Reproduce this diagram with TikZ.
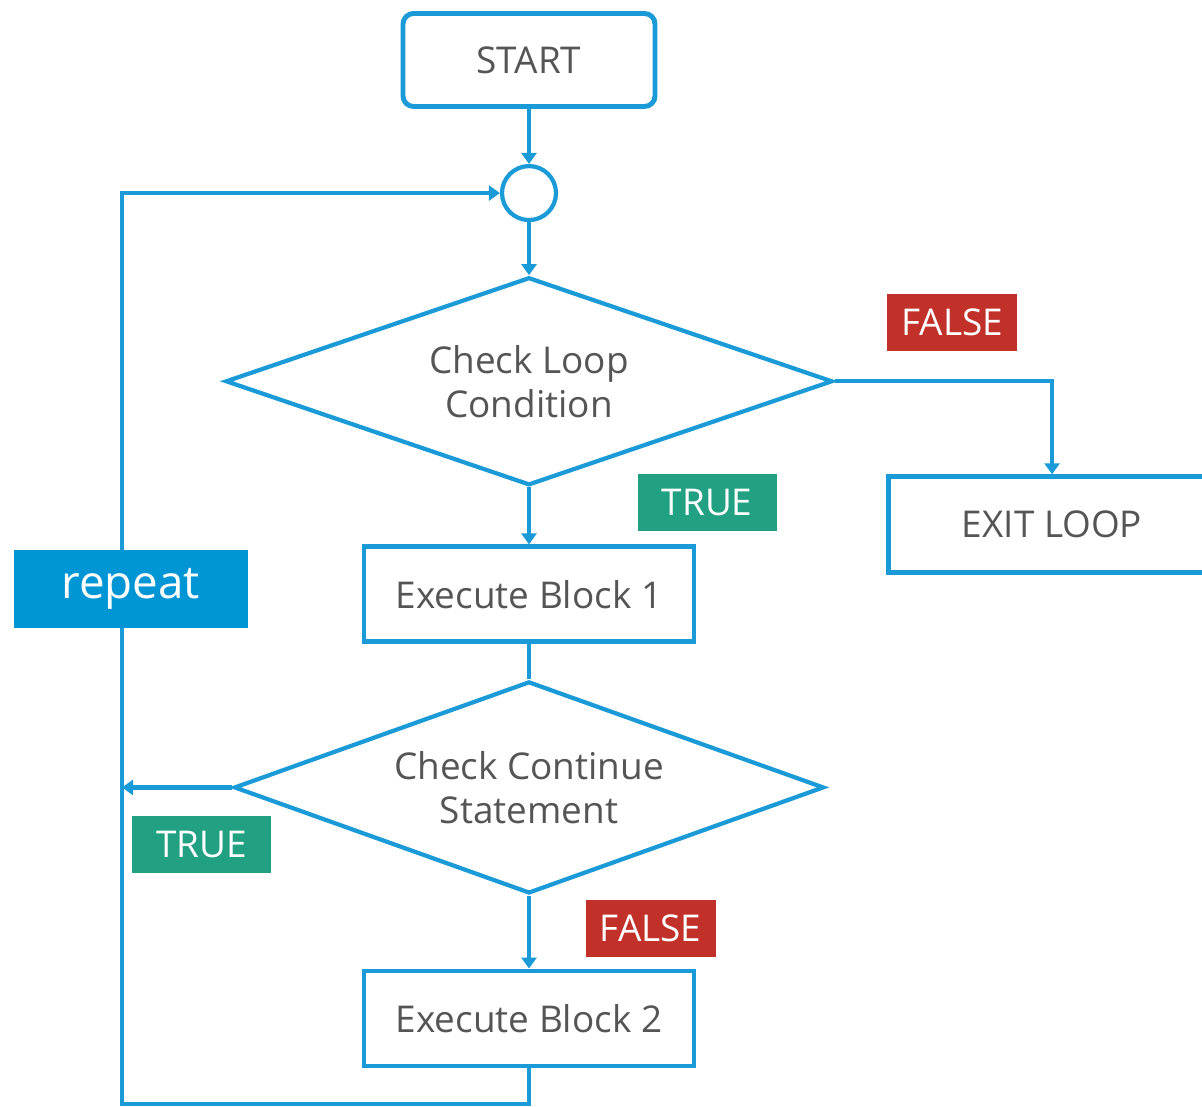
\documentclass[tikz,border=0pt]{standalone}
\usepackage{fontspec}
\setmainfont{Open Sans}
\usepackage{xcolor}
\usetikzlibrary{shapes.geometric, positioning, arrows.meta}

\definecolor{flowblue}{HTML}{1A9AD7}
\definecolor{repeatblue}{HTML}{0096D6}
\definecolor{truegreen}{HTML}{22A182}
\definecolor{falsered}{HTML}{C1312A}
\definecolor{txtgray}{HTML}{555555}

\begin{document}
\begin{tikzpicture}[
  every node/.style={font=\fontsize{10.5}{12.5}\selectfont, text=txtgray},
  box/.style={rectangle, draw=flowblue, line width=1.4pt, fill=white,
    minimum width=3.3cm, minimum height=0.95cm},
  startbox/.style={box, rounded corners=3pt, minimum width=2.52cm, minimum height=0.93cm},
  junction/.style={circle, draw=flowblue, line width=1.2pt, minimum size=0.54cm, inner sep=0pt},
  decision/.style={diamond, draw=flowblue, line width=1.2pt, inner sep=0pt, align=center},
  repeatbox/.style={rectangle, fill=repeatblue, text=white, minimum width=2.34cm,
    minimum height=0.78cm, font=\fontsize{13}{15}\selectfont},
  tag/.style={rectangle, text=white, minimum height=0.57cm, inner sep=1pt},
  truetag/.style={tag, fill=truegreen, minimum width=1.39cm},
  falsetag/.style={tag, fill=falsered, minimum width=1.3cm},
  conn/.style={draw=flowblue, line width=1.2pt},
  arr/.style={conn, -{Triangle[length=1.1mm, width=1.5mm]}},
]
  \useasboundingbox (0,0) rectangle (12.02,-11.06);
  \clip (0,0) rectangle (12.02,-11.06);

  \node[startbox] (start) at (5.29,-0.60) {START};
  \node[junction] (junc) [below=0.55cm of start] {};
  \node[decision, aspect=2.92, minimum width=6.07cm, minimum height=2.08cm] (cond1)
    [below=0.53cm of junc] {Check Loop\\Condition};
  \node[box] (eb1) [below=0.57cm of cond1] {Execute Block 1};
  \node[decision, aspect=2.78, minimum width=5.9cm, minimum height=2.12cm] (cond2)
    [below=0.35cm of eb1] {Check Continue\\Statement};
  \node[box] (eb2) [below=0.73cm of cond2] {Execute Block 2};
  \node[box, minimum width=3.28cm, minimum height=0.96cm] (exit)
    [below right=0.93cm and 0.51cm of cond1.east] {EXIT LOOP};
  \coordinate (loopbl) at (1.22,-11.04);

  \draw[arr] (start) -- (junc);
  \draw[arr] (junc) -- (cond1);
  \draw[arr] (cond1.east) -| (exit.north);
  \draw[arr] (cond1) -- (eb1);
  \draw[conn] (eb1) -- (cond2);
  \draw[arr] (cond2.west) -- (cond2.west -| loopbl);
  \draw[arr] (cond2) -- (eb2);
  \draw[arr] (eb2.south) |- (loopbl) |- (junc.west);

  % loop label sits on top of the return line
  \node[repeatbox] (rep) [left=1.13cm of eb1, yshift=0.05cm] {repeat};

  \node[falsetag] (f1) [above right=0.30cm and 0.52cm of cond1.east] {FALSE};
  \node[truetag]  (t1) [above right=0.13cm and 1.08cm of eb1.north] {TRUE};
  \node[truetag]  (t2) [below=0.28cm of cond2.west, xshift=-0.30cm] {TRUE};
  \node[falsetag] (f2) [below right=0.04cm and 0.56cm of cond2.south] {FALSE};
\end{tikzpicture}
\end{document}
